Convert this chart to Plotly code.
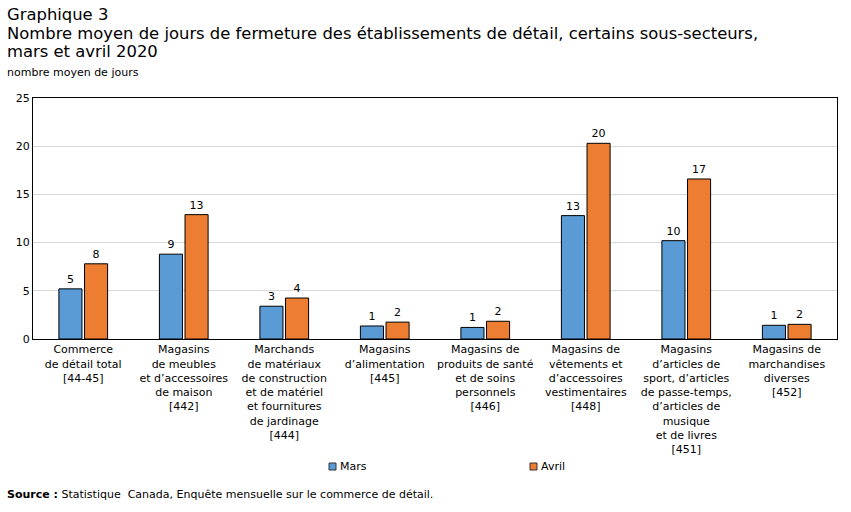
import plotly.graph_objects as go

categories = [
    "Commerce<br>de détail total<br>[44-45]",
    "Magasins<br>de meubles<br>et d’accessoires<br>de maison<br>[442]",
    "Marchands<br>de matériaux<br>de construction<br>et de matériel<br>et fournitures<br>de jardinage<br>[444]",
    "Magasins<br>d’alimentation<br>[445]",
    "Magasins de<br>produits de santé<br>et de soins<br>personnels<br>[446]",
    "Magasins de<br>vêtements et<br>d’accessoires<br>vestimentaires<br>[448]",
    "Magasins<br>d’articles de<br>sport, d’articles<br>de passe-temps,<br>d’articles de<br>musique<br>et de livres<br>[451]",
    "Magasins de<br>marchandises<br>diverses<br>[452]",
]
mars = [5.2, 8.8, 3.4, 1.35, 1.2, 12.8, 10.2, 1.42]
avril = [7.8, 12.9, 4.25, 1.75, 1.84, 20.3, 16.6, 1.52]
series_names = ["Mars", "Avril"]
series_colors = ["#5B9BD5", "#ED7D31"]

title_lines = [
    "Graphique 3",
    "Nombre moyen de jours de fermeture des établissements de détail, certains sous-secteurs,",
    "mars et avril 2020",
]

FONT = "DejaVu Sans"
W, H = 851, 512
ML, MR, MT, MB = 33, 14, 98, 173
pw = W - ML - MR
ph = H - MT - MB


def px(x, y):
    return (x - ML) / pw, (H - MB - y) / ph


fig = go.Figure()
for name, vals, col in zip(series_names, [mars, avril], series_colors):
    fig.add_trace(go.Bar(name=name, x=categories, y=vals, showlegend=False,
                         marker=dict(color=col, line=dict(color="black", width=1)),
                         texttemplate="%{y:.0f}", textposition="outside",
                         textfont=dict(size=11, color="black", family=FONT),
                         cliponaxis=False))

annotations = []
for txt, yc in zip(title_lines, [15, 33, 51]):
    x, y = px(5, yc)
    annotations.append(dict(text=txt, x=x, y=y, xref="paper", yref="paper",
                            xanchor="left", yanchor="middle", showarrow=False,
                            font=dict(size=16.4, family=FONT)))
x, y = px(5, 73)
annotations.append(dict(text="nombre moyen de jours", x=x, y=y, xref="paper", yref="paper",
                        xanchor="left", yanchor="middle", showarrow=False,
                        font=dict(size=11, family=FONT)))
x, y = px(5, 494)
annotations.append(dict(text="<b>Source :</b> Statistique  Canada, Enquête mensuelle sur le commerce de détail.",
                        x=x, y=y, xref="paper", yref="paper", xanchor="left", yanchor="middle",
                        showarrow=False, font=dict(size=11, family=FONT)))

shapes = []
for name, col, sx in zip(series_names, series_colors, [329, 530]):
    x0, y0 = px(sx, 470)
    x1, y1 = px(sx + 7, 463)
    shapes.append(dict(type="rect", xref="paper", yref="paper", x0=x0, y0=y0, x1=x1, y1=y1,
                       fillcolor=col, line=dict(color="#333333", width=1)))
    tx, ty = px(sx + 9, 466.5)
    annotations.append(dict(text=name, x=tx, y=ty, xref="paper", yref="paper",
                            xanchor="left", yanchor="middle", showarrow=False,
                            font=dict(size=11, family=FONT)))

fig.update_layout(
    width=W, height=H,
    margin=dict(l=ML, r=MR, t=MT, b=MB),
    paper_bgcolor="white", plot_bgcolor="white",
    font=dict(family=FONT, size=11, color="black"),
    barmode="group", bargap=0.49, bargroupgap=0.1,
    showlegend=False,
    xaxis=dict(showline=True, linecolor="black", linewidth=1, mirror=True,
               ticks="", tickfont=dict(size=11, family=FONT), tickangle=0),
    yaxis=dict(range=[0, 25], dtick=5, showline=True, linecolor="black", linewidth=1,
               mirror=True, showgrid=True, gridcolor="#D9D9D9", gridwidth=1,
               ticks="", zeroline=False, tickfont=dict(size=11, family=FONT)),
    annotations=annotations,
    shapes=shapes,
)

fig.write_html("out.html")
